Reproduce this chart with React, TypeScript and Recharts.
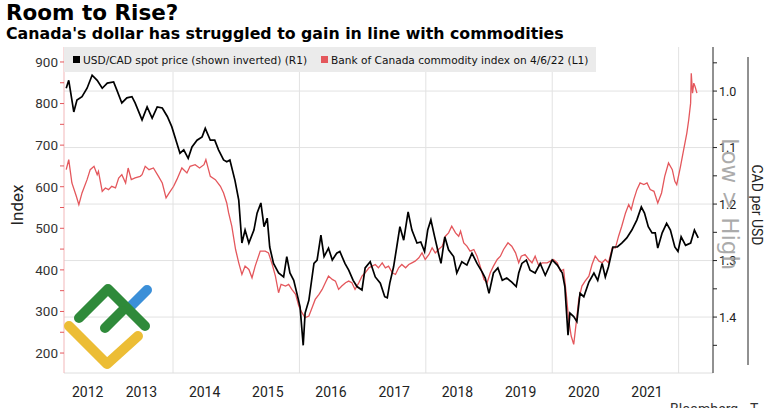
import { LineChart, Line, XAxis, YAxis, ReferenceLine } from 'recharts';

const usdcadDates = [
  2012.31, 2012.35, 2012.43, 2012.48, 2012.56, 2012.64, 2012.72, 2012.8, 2012.88, 2012.96,
  2013.06, 2013.11, 2013.19, 2013.27, 2013.35, 2013.4, 2013.51, 2013.59, 2013.67, 2013.75,
  2013.83, 2013.91, 2013.98, 2014.06, 2014.11, 2014.17, 2014.24, 2014.3, 2014.38, 2014.46,
  2014.51, 2014.59, 2014.66, 2014.72, 2014.8, 2014.85, 2014.9, 2014.98, 2015.04, 2015.09,
  2015.14, 2015.2, 2015.28, 2015.33, 2015.39, 2015.44, 2015.49, 2015.53, 2015.59, 2015.67,
  2015.75, 2015.8, 2015.85, 2015.91, 2015.96, 2016.01, 2016.06, 2016.09, 2016.15, 2016.23,
  2016.28, 2016.34, 2016.39, 2016.46, 2016.52, 2016.59, 2016.64, 2016.72, 2016.78, 2016.85,
  2016.91, 2016.99, 2017.04, 2017.12, 2017.2, 2017.28, 2017.35, 2017.39, 2017.43, 2017.49,
  2017.54, 2017.59, 2017.65, 2017.72, 2017.78, 2017.86, 2017.92, 2017.98, 2018.03, 2018.08,
  2018.14, 2018.2, 2018.24, 2018.3, 2018.36, 2018.44, 2018.49, 2018.57, 2018.65, 2018.73,
  2018.81, 2018.89, 2018.94, 2019.0, 2019.07, 2019.14, 2019.21, 2019.28, 2019.36, 2019.43,
  2019.47, 2019.52, 2019.59, 2019.65, 2019.73, 2019.81, 2019.89, 2020.0, 2020.08, 2020.16,
  2020.2, 2020.25, 2020.28, 2020.34, 2020.39, 2020.44, 2020.5, 2020.58, 2020.66, 2020.72,
  2020.79, 2020.84, 2020.89, 2020.96, 2021.03, 2021.1, 2021.18, 2021.26, 2021.34, 2021.41,
  2021.46, 2021.52, 2021.58, 2021.63, 2021.67, 2021.74, 2021.81, 2021.87, 2021.94, 2021.99,
  2022.04, 2022.11, 2022.19, 2022.25, 2022.31,
];
const usdcadRates = [
  0.995, 0.981, 1.037, 1.016, 1.01, 0.995, 0.972, 0.981, 0.995, 0.986,
  0.984, 0.998, 1.021, 1.012, 1.01, 1.021, 1.051, 1.028, 1.048, 1.028,
  1.03, 1.045, 1.063, 1.092, 1.11, 1.104, 1.119, 1.099, 1.087, 1.081,
  1.066, 1.087, 1.087, 1.104, 1.122, 1.125, 1.122, 1.158, 1.193, 1.269,
  1.246, 1.269, 1.246, 1.216, 1.198, 1.24, 1.225, 1.276, 1.305, 1.322,
  1.329, 1.293, 1.322, 1.335, 1.358, 1.382, 1.45, 1.393, 1.37, 1.305,
  1.299, 1.255, 1.293, 1.278, 1.299, 1.287, 1.284, 1.305, 1.317, 1.335,
  1.346, 1.352, 1.313, 1.302, 1.329, 1.34, 1.364, 1.366, 1.34, 1.311,
  1.276, 1.24, 1.264, 1.214, 1.246, 1.269, 1.267, 1.284, 1.246, 1.228,
  1.258, 1.287, 1.305, 1.258, 1.281, 1.293, 1.322, 1.302, 1.308, 1.287,
  1.305, 1.32, 1.331, 1.358, 1.322, 1.313, 1.335, 1.331, 1.338, 1.346,
  1.322, 1.305, 1.299, 1.317, 1.322, 1.305, 1.326, 1.299, 1.308, 1.322,
  1.346, 1.432, 1.393, 1.399, 1.408, 1.358, 1.364, 1.338, 1.322, 1.335,
  1.305, 1.329, 1.311, 1.276, 1.276, 1.269, 1.26, 1.246, 1.228, 1.205,
  1.216, 1.24, 1.251, 1.251, 1.278, 1.251, 1.234, 1.246, 1.276, 1.284,
  1.258, 1.273, 1.269, 1.246, 1.26,
];

const commodityDates = [
  2012.31, 2012.35, 2012.4, 2012.47, 2012.51, 2012.56, 2012.64, 2012.69, 2012.75, 2012.8,
  2012.82, 2012.88, 2012.93, 2012.98, 2013.03, 2013.09, 2013.14, 2013.19, 2013.25, 2013.29,
  2013.34, 2013.4, 2013.48, 2013.51, 2013.56, 2013.62, 2013.69, 2013.77, 2013.83, 2013.89,
  2013.94, 2014.01, 2014.06, 2014.14, 2014.22, 2014.27, 2014.35, 2014.42, 2014.49, 2014.52,
  2014.59, 2014.67, 2014.75, 2014.8, 2014.85, 2014.88, 2014.93, 2014.99, 2015.04, 2015.09,
  2015.14, 2015.2, 2015.25, 2015.3, 2015.38, 2015.46, 2015.51, 2015.57, 2015.62, 2015.67,
  2015.71, 2015.78, 2015.83, 2015.88, 2015.94, 2015.99, 2016.04, 2016.09, 2016.15, 2016.2,
  2016.25, 2016.31, 2016.36, 2016.41, 2016.46, 2016.52, 2016.57, 2016.62, 2016.67, 2016.73,
  2016.78, 2016.83, 2016.88, 2016.94, 2016.99, 2017.04, 2017.1, 2017.15, 2017.2, 2017.25,
  2017.31, 2017.36, 2017.41, 2017.47, 2017.52, 2017.57, 2017.62, 2017.68, 2017.73, 2017.78,
  2017.83, 2017.89, 2017.94, 2017.99, 2018.05, 2018.1, 2018.15, 2018.2, 2018.26, 2018.31,
  2018.36, 2018.41, 2018.47, 2018.52, 2018.55, 2018.6, 2018.65, 2018.7, 2018.76, 2018.81,
  2018.86, 2018.92, 2018.97, 2019.02, 2019.07, 2019.13, 2019.18, 2019.23, 2019.3, 2019.36,
  2019.42, 2019.47, 2019.51, 2019.57, 2019.63, 2019.68, 2019.73, 2019.79, 2019.84, 2019.92,
  2019.97, 2020.02, 2020.08, 2020.13, 2020.18, 2020.22, 2020.26, 2020.3, 2020.34, 2020.38,
  2020.42, 2020.47, 2020.52, 2020.58, 2020.63, 2020.68, 2020.74, 2020.79, 2020.84, 2020.89,
  2020.95, 2021.0, 2021.05, 2021.1, 2021.16, 2021.21, 2021.25, 2021.29, 2021.34, 2021.39,
  2021.45, 2021.5, 2021.55, 2021.61, 2021.67, 2021.73, 2021.78, 2021.84, 2021.9, 2021.94,
  2021.97, 2022.03, 2022.08, 2022.13, 2022.16, 2022.19, 2022.2, 2022.22, 2022.24, 2022.26,
  2022.29,
];
const commodityIndex = [
  641, 665, 609, 577, 557, 585, 617, 641, 649, 629,
  637, 589, 597, 593, 601, 597, 621, 629, 609, 645,
  617, 621, 625, 629, 649, 641, 645, 625, 609, 573,
  585, 601, 617, 645, 633, 649, 653, 645, 653, 665,
  625, 617, 601, 585, 561, 537, 505, 449, 417, 389,
  409, 401, 381, 409, 445, 445, 441, 413, 385, 345,
  365, 361, 365, 353, 341, 313, 297, 285, 289, 309,
  329, 341, 353, 369, 385, 377, 373, 353, 361, 369,
  373, 369, 353, 369, 385, 393, 405, 409, 413, 405,
  417, 405, 409, 393, 389, 405, 413, 405, 413, 417,
  421, 429, 441, 425, 437, 453, 441, 449, 457, 481,
  489, 505, 489, 481, 493, 465, 457, 445, 449, 433,
  409, 377, 369, 393, 409, 425, 433, 449, 465, 457,
  441, 417, 433, 437, 425, 417, 433, 409, 417, 417,
  421, 425, 417, 397, 401, 345, 281, 241, 221, 273,
  329, 361, 373, 385, 413, 433, 421, 417, 425, 417,
  453, 453, 481, 505, 537, 557, 545, 569, 593, 609,
  605, 609, 593, 589, 561, 585, 625, 657, 641, 613,
  605, 649, 689, 729, 761, 801, 873, 825, 849, 841,
  825,
];

const yearTicks = [2012.65, 2013.5, 2014.5, 2015.5, 2016.5, 2017.5, 2018.5, 2019.5, 2020.5, 2021.5];
const yearGrid = [2014, 2016, 2018, 2020, 2022];
const indexTicks = [200, 250, 300, 350, 400, 450, 500, 550, 600, 650, 700, 750, 800, 850, 900];
const cadTicks = [0.95, 1.0, 1.05, 1.1, 1.15, 1.2, 1.25, 1.3, 1.35, 1.4, 1.45];
const cadGrid = [1.0, 1.1, 1.2, 1.3, 1.4];

const usdcadData = usdcadDates.map((t, i) => ({ t, usdcad: usdcadRates[i] }));
const commodityData = commodityDates.map((t, i) => ({ t, commodity: commodityIndex[i] }));

const RED = '#e4575c';
const tickFont = { fontFamily: 'Roboto', fill: '#333' };

const App = () => {
  return (
    <div style={{ position: 'absolute', left: 0, top: 0, width: 773, height: 408, background: '#fff', overflow: 'hidden' }}>
      <LineChart width={773} height={408} margin={{ top: 47, right: 15, bottom: 10, left: 14 }}>
        <XAxis
          type="number"
          dataKey="t"
          domain={[2012.275, 2022.544]}
          ticks={yearTicks}
          tickFormatter={(v) => String(Math.floor(v))}
          allowDataOverflow
          height={25}
          tickLine={false}
          tickSize={0}
          tickMargin={14}
          axisLine={{ stroke: '#dedede' }}
          tick={{ ...tickFont, fontSize: 14, fill: '#222' }}
        />
        <YAxis
          yAxisId="left"
          domain={[152, 936]}
          ticks={indexTicks}
          tickFormatter={(v) => (v % 100 === 0 ? String(v) : '')}
          width={50}
          tickSize={4}
          tickMargin={2}
          axisLine={{ stroke: '#f2b7b9' }}
          tickLine={{ stroke: RED }}
          tick={{ ...tickFont, fontSize: 13.5 }}
          allowDataOverflow
        />
        <YAxis
          yAxisId="right"
          orientation="right"
          reversed
          domain={[0.922, 1.499]}
          ticks={cadTicks}
          tickFormatter={(v) => (Math.round(v * 100) % 10 === 0 ? v.toFixed(1) : '')}
          width={45}
          tickSize={4}
          tickMargin={2}
          axisLine={{ stroke: '#222' }}
          tickLine={{ stroke: '#222' }}
          tick={{ ...tickFont, fontSize: 12.5, fill: '#222' }}
          allowDataOverflow
        />
        {cadGrid.map((v) => (
          <ReferenceLine key={'h' + v} yAxisId="right" y={v} stroke="#e2e2e2" strokeWidth={1} />
        ))}
        {yearGrid.map((v) => (
          <ReferenceLine key={'v' + v} yAxisId="left" x={v} stroke="#e2e2e2" strokeWidth={1} />
        ))}
        <Line
          yAxisId="left"
          data={commodityData}
          dataKey="commodity"
          stroke={RED}
          strokeWidth={1.3}
          dot={false}
          type="linear"
          isAnimationActive={false}
        />
        <Line
          yAxisId="right"
          data={usdcadData}
          dataKey="usdcad"
          stroke="#000"
          strokeWidth={1.7}
          dot={false}
          type="linear"
          isAnimationActive={false}
        />
      </LineChart>

      <svg width={773} height={408} style={{ position: 'absolute', left: 0, top: 0, pointerEvents: 'none' }}>
        <text x={6} y={20} fontFamily="DejaVu Sans" fontWeight="bold" fontSize={21.5} fill="#000">
          Room to Rise?
        </text>
        <text x={6} y={38.5} fontFamily="DejaVu Sans" fontWeight="bold" fontSize={15.8} fill="#000">
          Canada's dollar has struggled to gain in line with commodities
        </text>

        <rect x={64} y={47} width={532} height={25} fill="#ebebeb" />
        <rect x={73} y={56} width={7} height={7} fill="#000" />
        <text x={83} y={63.5} fontFamily="DejaVu Sans" fontSize={10.6} fill="#111">
          USD/CAD spot price (shown inverted) (R1)
        </text>
        <rect x={321} y={56} width={7} height={7} fill={RED} />
        <text x={331} y={63.5} fontFamily="DejaVu Sans" fontSize={10.6} fill="#111">
          Bank of Canada commodity index on 4/6/22 (L1)
        </text>

        <text x={17} y={205} transform="rotate(-90 17 205)" textAnchor="middle" dominantBaseline="central" fontFamily="Roboto" fontSize={17} fill="#222">
          Index
        </text>
        <line x1={748} y1={57} x2={748} y2={365} stroke="#222" strokeWidth={1} />
        <text x={757} y={205} transform="rotate(90 757 205)" textAnchor="middle" dominantBaseline="central" fontFamily="Roboto" fontSize={14} fill="#222">
          CAD per USD
        </text>
        <text x={730} y={204} transform="rotate(90 730 204)" textAnchor="middle" dominantBaseline="central" fontFamily="DejaVu Sans" fontSize={23} fill="#9c9c9c" fillOpacity={0.85}>
          Low &gt; High
        </text>

        <text x={670} y={414} fontFamily="Roboto" fontSize={14} fill="#333">
          Bloomberg
        </text>
        <text x={750} y={414} fontFamily="Roboto" fontSize={14} fill="#333">
          T
        </text>

        <g fill="none" strokeLinecap="round" strokeLinejoin="round" strokeWidth={10}>
          <path d="M69 326 L107 364 L138 336" stroke="#ecbd35" />
          <path d="M129 308 L147 290" stroke="#3b8fd8" />
          <path d="M79 318 L108 289 L145 326" stroke="#2f8a3a" />
          <path d="M105 328 L122 311" stroke="#2f8a3a" />
        </g>
      </svg>
    </div>
  );
};

export default App;
